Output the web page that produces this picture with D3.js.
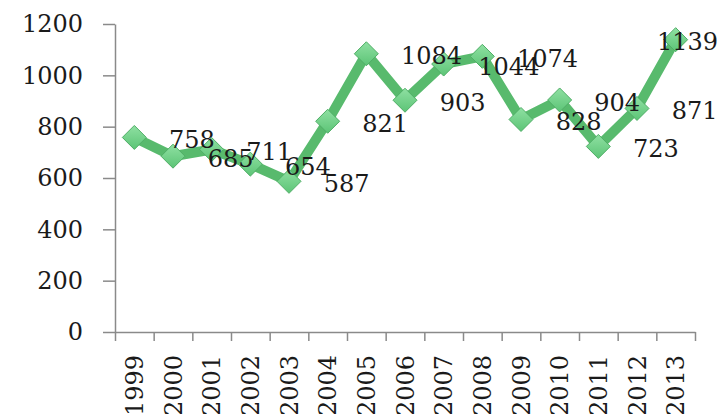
<!DOCTYPE html>
<html>
<head>
<meta charset="utf-8">
<script src="https://cdn.jsdelivr.net/npm/d3@7/dist/d3.min.js"></script>
<style>
  html, body { margin: 0; padding: 0; background: #ffffff; }
  svg { display: block; }
</style>
</head>
<body>
<svg id="chart" width="722" height="414"></svg>
<script>
// Yearly series
const years = ["1999","2000","2001","2002","2003","2004","2005","2006","2007","2008","2009","2010","2011","2012","2013"];
const values = [758, 685, 711, 654, 587, 821, 1084, 903, 1044, 1074, 828, 904, 723, 871, 1139];
const yTicks = [0, 200, 400, 600, 800, 1000, 1200];

const W = 722, H = 414;
const plotLeft = 115, plotRight = 695, plotTop = 24, plotBottom = 332;
const font = "'DejaVu Serif', serif";

const svg = d3.select("#chart");

const x = d3.scaleBand().domain(years).range([plotLeft, plotRight]).padding(0);
const xEdge = d3.scaleLinear().domain([0, years.length]).range([plotLeft, plotRight]);
const y = d3.scaleLinear().domain([0, 1200]).range([plotBottom, plotTop]);
const cx = d => x(d) + x.bandwidth() / 2;

const axisColor = "#8a8a8a";

// Y axis
const gy = svg.append("g")
  .attr("transform", `translate(${plotLeft},0)`)
  .call(d3.axisLeft(y).tickValues(yTicks).tickFormat(d3.format("d"))
    .tickSize(12).tickPadding(20).tickSizeOuter(0));
gy.select(".domain").attr("stroke", axisColor).attr("stroke-width", 1.5);
gy.selectAll(".tick line").attr("stroke", axisColor).attr("stroke-width", 1.5);
gy.selectAll(".tick text")
  .attr("font-family", font).attr("font-size", 24).attr("fill", "#1a1a1a");

// X axis: tick marks at category boundaries
const gxe = svg.append("g")
  .attr("transform", `translate(0,${plotBottom})`)
  .call(d3.axisBottom(xEdge).tickValues(d3.range(years.length + 1)).tickSize(9).tickFormat("").tickSizeOuter(0));
gxe.select(".domain").attr("stroke", axisColor).attr("stroke-width", 1.5);
gxe.selectAll(".tick line").attr("stroke", axisColor).attr("stroke-width", 1.5);

// X axis: rotated year labels at category centres
const gx = svg.append("g")
  .attr("transform", `translate(0,${plotBottom})`)
  .call(d3.axisBottom(x).tickSize(0));
gx.select(".domain").remove();
gx.selectAll(".tick text")
  .attr("font-family", font).attr("font-size", 24).attr("fill", "#1a1a1a")
  .attr("transform", "rotate(-90)")
  .attr("text-anchor", "end")
  .attr("x", -23)
  .attr("y", 0)
  .attr("dy", "0.36em");

// Marker gradient
const defs = svg.append("defs");
const grad = defs.append("linearGradient").attr("id", "mk").attr("x1", 0).attr("y1", 0).attr("x2", 0).attr("y2", 1);
grad.append("stop").attr("offset", "0%").attr("stop-color", "#8fe0a2");
grad.append("stop").attr("offset", "100%").attr("stop-color", "#5cc476");

// Line
const line = d3.line().x((d, i) => cx(years[i])).y(d => y(d));
svg.append("path")
  .datum(values)
  .attr("fill", "none")
  .attr("stroke", "#58ba6d")
  .attr("stroke-width", 10)
  .attr("stroke-linejoin", "miter")
  .attr("d", line);

// Diamond markers
svg.append("g").selectAll("path")
  .data(values)
  .join("path")
  .attr("transform", (d, i) => `translate(${cx(years[i])},${y(d)})`)
  .attr("d", "M0,-12L12,0L0,12L-12,0Z")
  .attr("fill", "url(#mk)")
  .attr("stroke", "#4fae66")
  .attr("stroke-width", 1);

// Value labels, set just right of each point
const lbl = svg.append("g").selectAll("text")
  .data(values)
  .join("text")
  .attr("font-family", font)
  .attr("font-size", 24)
  .attr("fill", "#1a1a1a")
  .attr("dy", "0.36em")
  .attr("y", d => y(d) + 2)
  .text(d => d);
lbl.attr("x", function (d, i) {
  const want = cx(years[i]) + x.bandwidth() - 4;
  const w = this.getComputedTextLength();
  return Math.min(want, W - w - 4);
});
</script>
</body>
</html>
